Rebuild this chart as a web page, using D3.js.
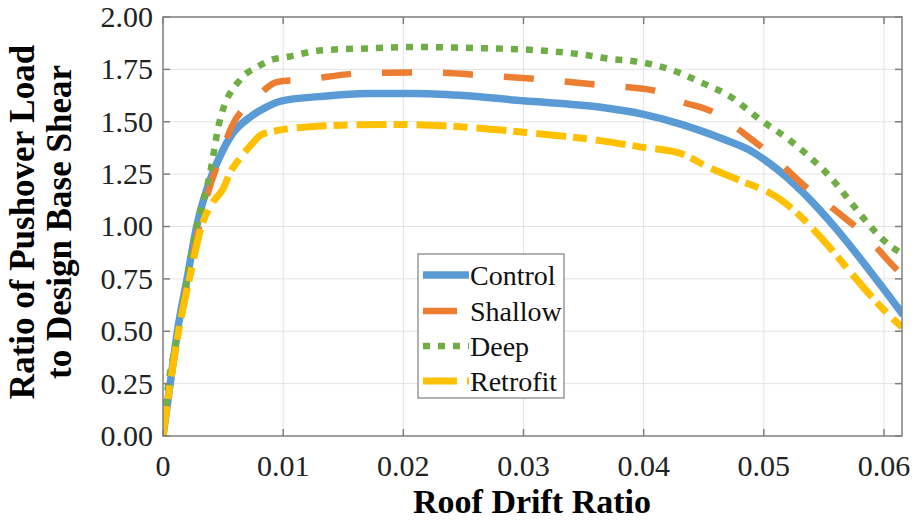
<!DOCTYPE html>
<html lang="en">
<head>
  <meta charset="UTF-8">
  <title>Pushover curves</title>
  <script src="https://d3js.org/d3.v7.min.js"></script>
  <style>
    body { margin: 0; background: #fff; }
    text { font-family: "Liberation Serif", "Times New Roman", serif; fill: #000; }
    .grid line { stroke: #e3e3e3; stroke-width: 1px; }
    .tick-lbl { font-size: 30px; fill: #222; }
    .x-title { font-size: 34px; font-weight: bold; }
    .y-title { font-size: 35px; font-weight: bold; }
    .leg-lbl { font-size: 28px; fill: #111; }
  </style>
</head>
<body>
  <svg width="916" height="520"></svg>

  <script>
    // series
    const seriesNames = ["Control", "Shallow", "Deep", "Retrofit"];

    const controlX = [0, 0.0006, 0.0012, 0.002, 0.0028, 0.0041, 0.0047, 0.0058, 0.0072, 0.0086, 0.0099, 0.013, 0.017, 0.021, 0.025, 0.03, 0.0363, 0.04, 0.043, 0.0465, 0.0488, 0.0505, 0.0616];
    const controlY = [0, 0.25, 0.5, 0.75, 1.0, 1.25, 1.33, 1.445, 1.52, 1.57, 1.60, 1.62, 1.635, 1.635, 1.625, 1.60, 1.57, 1.535, 1.49, 1.42, 1.365, 1.30, 0.578];

    const shallowX = [0, 0.0006, 0.0013, 0.0021, 0.003, 0.0039, 0.0047, 0.0057, 0.0077, 0.0095, 0.0116, 0.017, 0.022, 0.027, 0.032, 0.0364, 0.0408, 0.0432, 0.046, 0.0483, 0.0509, 0.0533, 0.0561, 0.0584, 0.0607, 0.0615];
    const shallowY = [0, 0.25, 0.5, 0.75, 1.0, 1.19, 1.32, 1.475, 1.61, 1.69, 1.70, 1.733, 1.735, 1.72, 1.70, 1.675, 1.65, 1.595, 1.54, 1.446, 1.327, 1.198, 1.07, 0.96, 0.816, 0.77];

    const deepX = [0, 0.0003, 0.0012, 0.002, 0.0028, 0.0039, 0.0047, 0.0064, 0.0078, 0.009, 0.0104, 0.013, 0.017, 0.021, 0.025, 0.03, 0.035, 0.0372, 0.0397, 0.0422, 0.0447, 0.0472, 0.0497, 0.0522, 0.0547, 0.0607, 0.0615];
    const deepY = [0, 0.18, 0.48, 0.75, 1.0, 1.25, 1.5, 1.70, 1.76, 1.795, 1.81, 1.84, 1.85, 1.857, 1.853, 1.845, 1.82, 1.80, 1.785, 1.75, 1.69, 1.62, 1.51, 1.41, 1.285, 0.90, 0.87];

    const retrofitX = [0, 0.0006, 0.0013, 0.0022, 0.0032, 0.0042, 0.005, 0.0056, 0.0062, 0.0075, 0.0081, 0.0097, 0.012, 0.016, 0.02, 0.025, 0.03, 0.0364, 0.0397, 0.043, 0.0455, 0.048, 0.0505, 0.0613, 0.0615];
    const retrofitY = [0, 0.25, 0.5, 0.75, 1.0, 1.12, 1.18, 1.26, 1.31, 1.40, 1.435, 1.46, 1.475, 1.485, 1.487, 1.475, 1.45, 1.41, 1.38, 1.35, 1.28, 1.22, 1.16, 0.53, 0.52];

    const xTicks = [0, 0.01, 0.02, 0.03, 0.04, 0.05, 0.06];
    const xTickLabels = ["0", "0.01", "0.02", "0.03", "0.04", "0.05", "0.06"];
    const yTicks = [0, 0.25, 0.5, 0.75, 1.0, 1.25, 1.5, 1.75, 2.0];

    const colors = ["#5b9bd5", "#ed7d31", "#70ad47", "#ffc000"];
    const widths = [7.5, 6.5, 6.5, 7];
    const dashes = [null, "30,31", "7,8", "30,7,14,9"];

    const svg = d3.select("svg");
    const pLeft = 163, pRight = 902, pTop = 17, pBottom = 436;

    const x = d3.scaleLinear().domain([0, 0.0615]).range([pLeft, pRight]);
    const y = d3.scaleLinear().domain([0, 2]).range([pBottom, pTop]);

    // grid
    const grid = svg.append("g").attr("class", "grid");
    grid.selectAll(".gx").data(xTicks.slice(1)).enter().append("line")
      .attr("x1", d => x(d)).attr("x2", d => x(d))
      .attr("y1", pTop).attr("y2", pBottom);
    grid.selectAll(".gy").data(yTicks.slice(1)).enter().append("line")
      .attr("x1", pLeft).attr("x2", pRight)
      .attr("y1", d => y(d)).attr("y2", d => y(d));

    // curves
    svg.append("clipPath").attr("id", "clip")
      .append("rect").attr("x", pLeft).attr("y", pTop)
      .attr("width", pRight - pLeft).attr("height", pBottom - pTop);

    const allX = [controlX, shallowX, deepX, retrofitX];
    const allY = [controlY, shallowY, deepY, retrofitY];
    const series = seriesNames.map((name, i) => ({
      name: name,
      pts: allX[i].map((v, j) => [v, allY[i][j]])
    }));

    const line = d3.line()
      .x(d => x(d[0]))
      .y(d => y(d[1]))
      .curve(d3.curveMonotoneX);

    svg.append("g").attr("clip-path", "url(#clip)")
      .selectAll("path").data(series).enter().append("path")
      .attr("d", d => line(d.pts))
      .attr("fill", "none")
      .attr("stroke", (d, i) => colors[i])
      .attr("stroke-width", (d, i) => widths[i])
      .attr("stroke-dasharray", (d, i) => dashes[i])
      .attr("stroke-linejoin", "round");

    // box and inward ticks (all four sides)
    const frame = svg.append("g").attr("stroke", "#7f7f7f").attr("stroke-width", 1.5);
    frame.append("rect").attr("x", pLeft).attr("y", pTop)
      .attr("width", pRight - pLeft).attr("height", pBottom - pTop).attr("fill", "none");
    const tl = 7;
    xTicks.forEach(t => {
      frame.append("line").attr("x1", x(t)).attr("x2", x(t)).attr("y1", pBottom).attr("y2", pBottom - tl);
      frame.append("line").attr("x1", x(t)).attr("x2", x(t)).attr("y1", pTop).attr("y2", pTop + tl);
    });
    yTicks.forEach(t => {
      frame.append("line").attr("x1", pLeft).attr("x2", pLeft + tl).attr("y1", y(t)).attr("y2", y(t));
      frame.append("line").attr("x1", pRight).attr("x2", pRight - tl).attr("y1", y(t)).attr("y2", y(t));
    });

    // tick labels
    svg.selectAll(".xl").data(xTicks).enter().append("text")
      .attr("class", "tick-lbl")
      .attr("x", d => x(d)).attr("y", 476)
      .attr("text-anchor", "middle")
      .text((d, i) => xTickLabels[i]);

    svg.selectAll(".yl").data(yTicks).enter().append("text")
      .attr("class", "tick-lbl")
      .attr("x", 153).attr("y", d => y(d)).attr("dy", "0.33em")
      .attr("text-anchor", "end")
      .text(d => d.toFixed(2));

    // axis titles
    svg.append("text").attr("class", "x-title")
      .attr("x", 532).attr("y", 513).attr("text-anchor", "middle")
      .text("Roof Drift Ratio");

    const yt = svg.append("text").attr("class", "y-title")
      .attr("transform", "translate(0,222) rotate(-90)")
      .attr("text-anchor", "middle");
    yt.append("tspan").attr("x", 0).attr("y", 34).text("Ratio of Pushover Load");
    yt.append("tspan").attr("x", 0).attr("y", 71).text("to Design Base Shear");

    // legend
    const lg = svg.append("g");
    lg.append("rect").attr("x", 418).attr("y", 254).attr("width", 146).attr("height", 144)
      .attr("fill", "#fff").attr("stroke", "#7f7f7f").attr("stroke-width", 1.2);
    const legY = [275, 311, 346, 381];
    const sampleEnd = [469, 457, 469, 469];
    series.forEach((s, i) => {
      lg.append("line")
        .attr("x1", 423).attr("x2", sampleEnd[i])
        .attr("y1", legY[i]).attr("y2", legY[i])
        .attr("stroke", colors[i])
        .attr("stroke-width", widths[i])
        .attr("stroke-dasharray", i === 3 ? "34,10,4,10" : (i === 2 ? "7,8" : null));
      lg.append("text").attr("class", "leg-lbl")
        .attr("x", 470).attr("y", legY[i]).attr("dy", "0.35em")
        .text(s.name);
    });
  </script>
</body>
</html>
